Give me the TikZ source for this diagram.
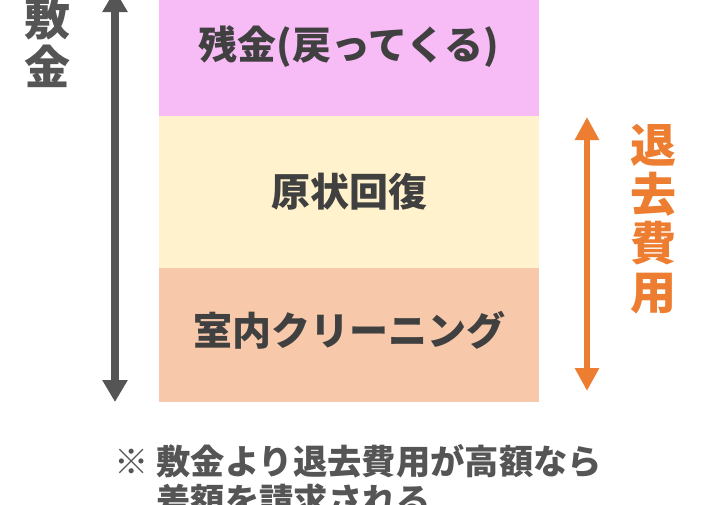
\documentclass[tikz,border=0pt]{standalone}
\usepackage{fontspec}
\setmainfont{Noto Sans CJK JP}
\usetikzlibrary{arrows.meta}
\definecolor{pinkbox}{HTML}{F7BBF5}
\definecolor{yellowbox}{HTML}{FFF2CC}
\definecolor{peachbox}{HTML}{F7C9AA}
\definecolor{darkgray}{HTML}{555555}
\definecolor{textgray}{HTML}{404040}
\definecolor{orangearr}{HTML}{ED7D31}
\begin{document}
\begin{tikzpicture}[x=1pt,y=-1pt,
  boxtext/.style={text=textgray,font=\fontsize{39}{42}\selectfont\bfseries},
  vlabel/.style={align=center,font=\fontsize{46}{49}\selectfont\bfseries},
  grayarrow/.style={line width=8pt,draw=darkgray,{Triangle[width=24pt,length=22pt]}-{Triangle[width=24pt,length=22pt]}},
  orangearrow/.style={line width=6pt,draw=orangearr,{Triangle[width=23pt,length=23pt]}-{Triangle[width=23pt,length=23pt]}}]
\useasboundingbox (0,0) rectangle (720,504);
\fill[pinkbox] (159,-10) rectangle (539,116);
\fill[yellowbox] (159,116) rectangle (539,268);
\fill[peachbox] (159,268) rectangle (539,402);
\node[boxtext] (t1) at (349,47) {残金(戻ってくる)};
\node[boxtext] (t2) at (349,192) {原状回復};
\node[boxtext] (t3) at (349,330) {室内クリーニング};
\coordinate (gtop) at (115,-10);
\coordinate (gbot) at (115,402);
\draw[grayarrow] (gtop) -- (gbot);
\coordinate (otop) at (587,117);
\coordinate (obot) at (587,391);
\draw[orangearrow] (otop) -- (obot);
\node[vlabel,text=darkgray,anchor=south] (sk) at (47,91) {敷\\金};
\node[vlabel,text=orangearr,anchor=north] (tk) at (653,121) {退\\去\\費\\用};
\node[anchor=west,align=left,text=darkgray,font=\fontsize{34.3}{39}\selectfont\bfseries] (note) at (111,481) {※ 敷金より退去費用が高額なら\\\phantom{※ }差額を請求される};
\end{tikzpicture}
\end{document}
